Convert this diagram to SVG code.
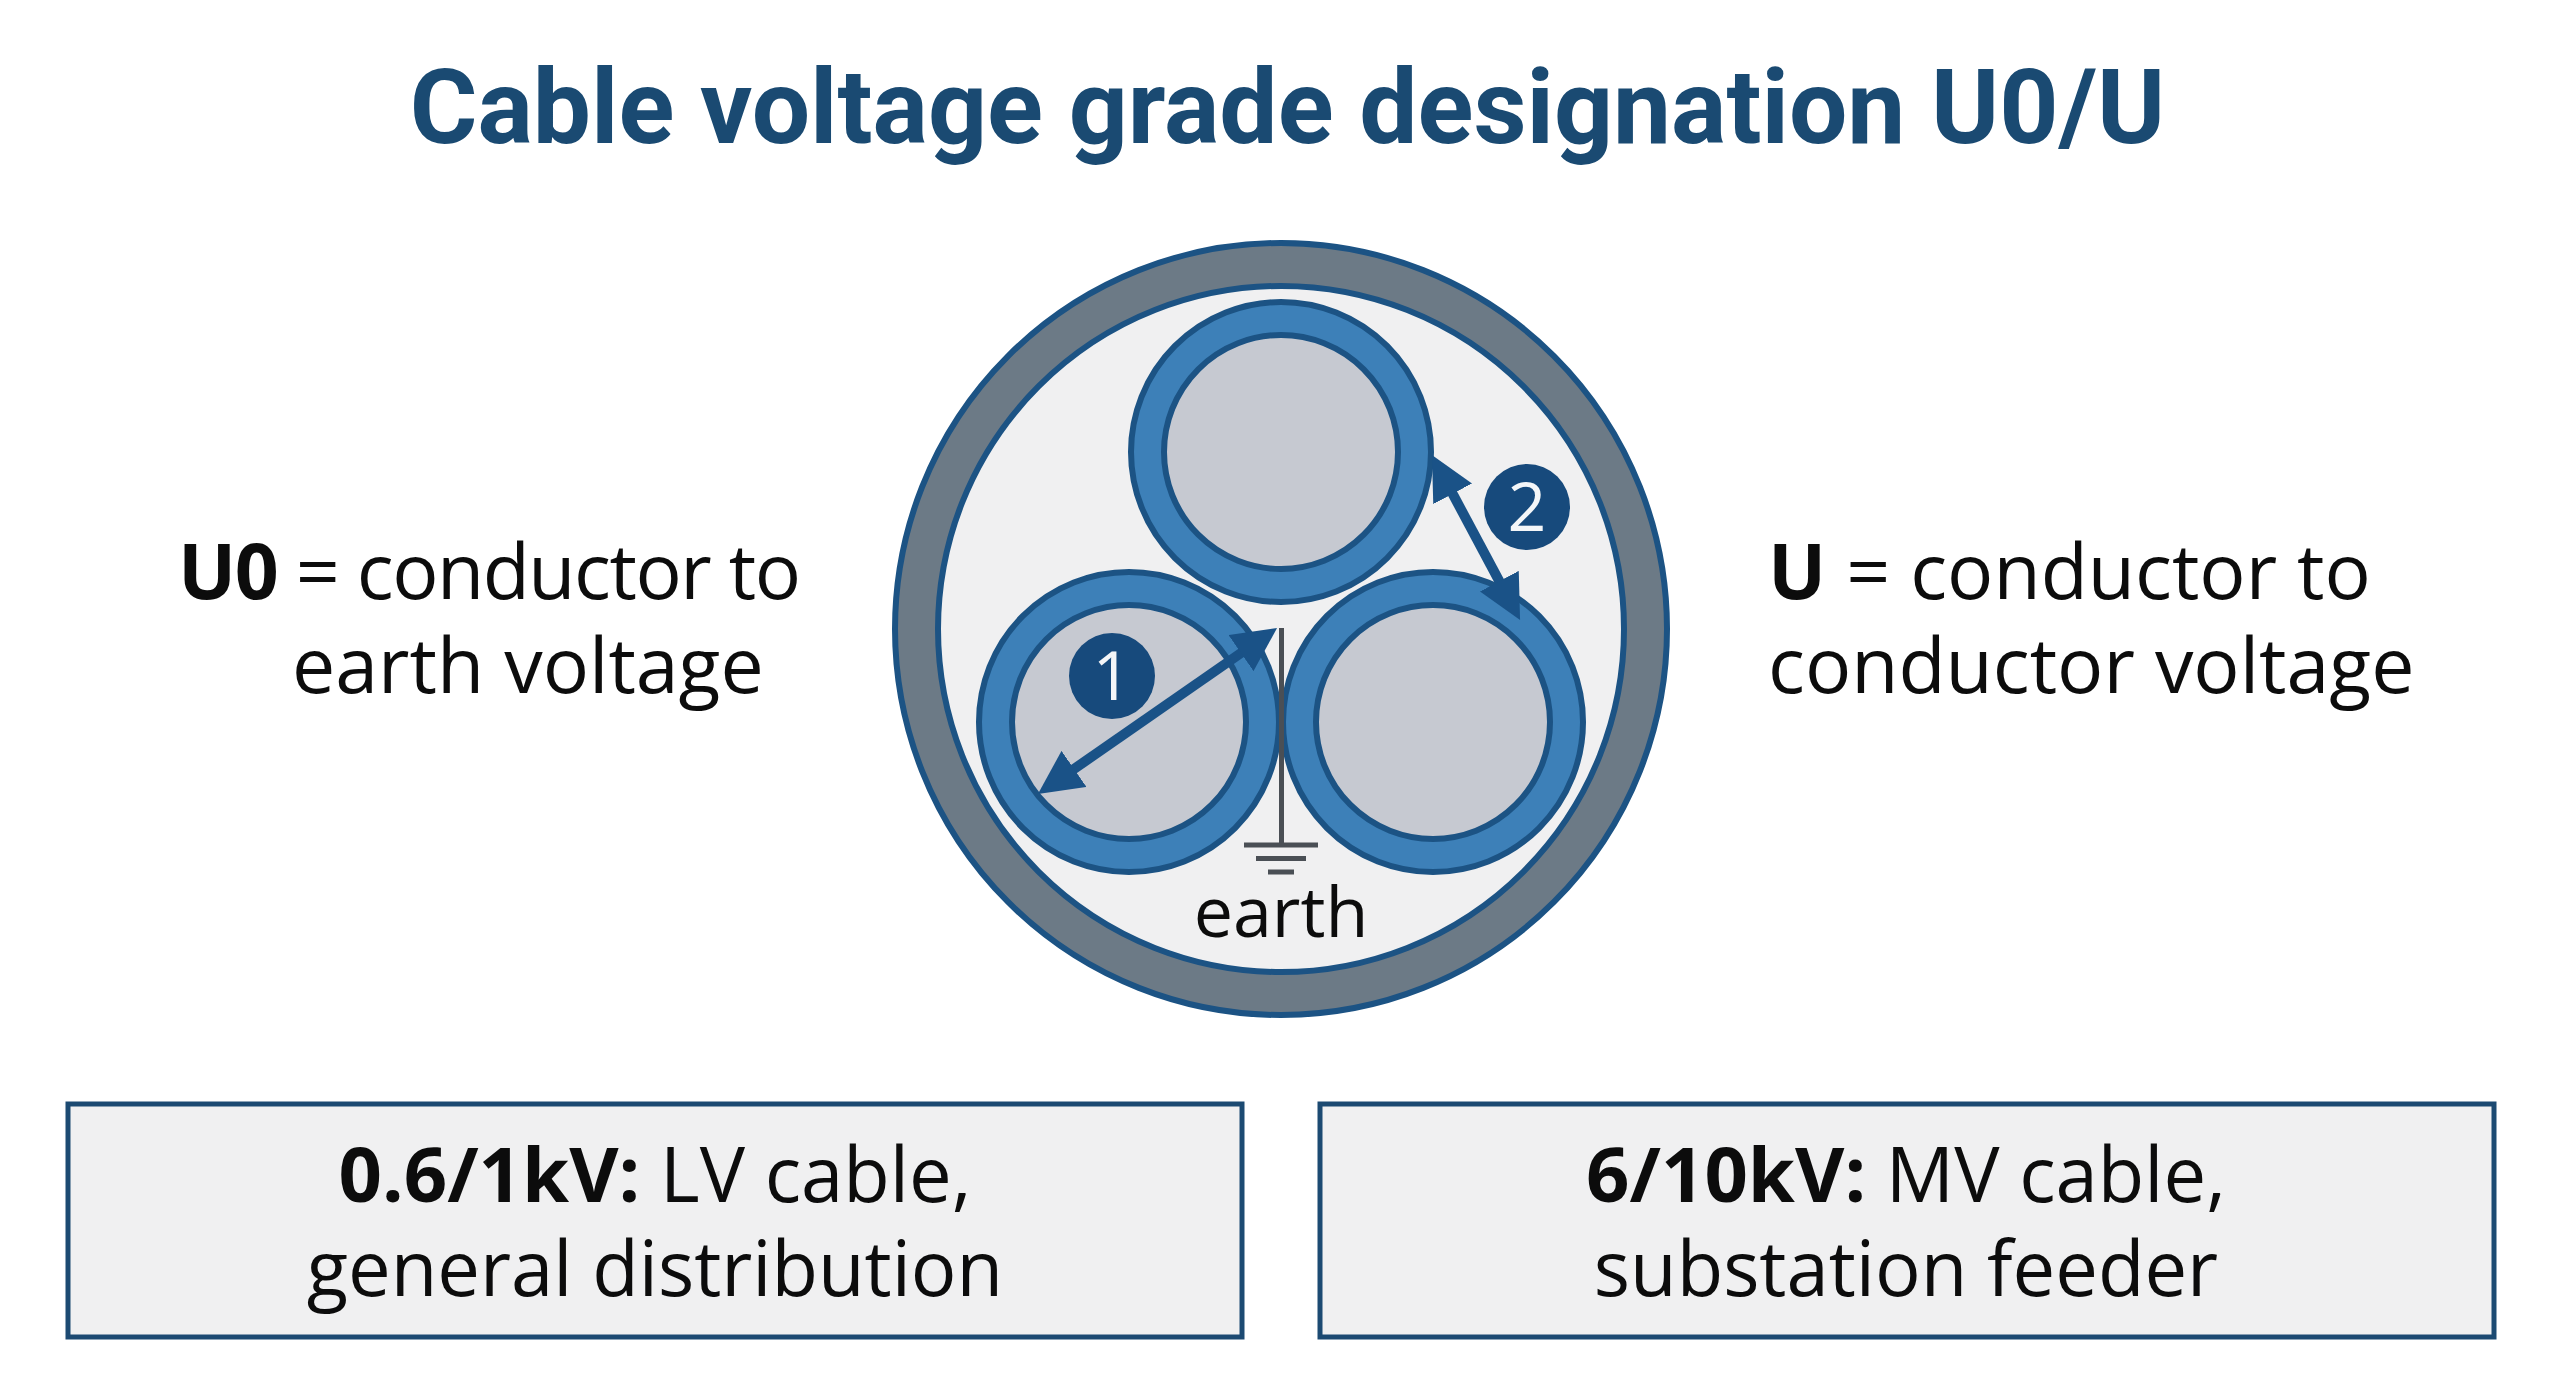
<svg xmlns="http://www.w3.org/2000/svg" width="2560" height="1396" viewBox="0 0 2560 1396">
<style>
text{font-family:"Open Sans","Noto Sans",sans-serif;fill:#0c0c0c;font-size:77px}
.c{text-anchor:middle}
.b{font-weight:700}
.title{font-family:Roboto,"Liberation Sans",sans-serif;font-weight:700;font-size:103.500px;fill:#1a4a72}
.core{fill:#3d80b8;stroke:#1c5384;stroke-width:6}
.cond{fill:#c6c9d1;stroke:#1c5384;stroke-width:6}
.box{fill:#f0f0f1;stroke:#1c4a72;stroke-width:5}
.boxt{font-size:76px}
.arrow{stroke:#1a5287;stroke-width:10;fill:none;marker-start:url(#ah);marker-end:url(#ah)}
.gnd{stroke:#4a4f55;stroke-width:5;fill:none}
.badge{fill:#174a7c}
.num{fill:#f4f6f8;font-size:68px;text-anchor:middle}
</style>
<defs>
<marker id="ah" viewBox="0 0 10 10" refX="5" refY="5" markerWidth="4.400" markerHeight="4.400" orient="auto-start-reverse"><path d="M0 0L10 5L0 10Z" fill="#1a5287"/></marker>
</defs>
<rect width="2560" height="1396" fill="#ffffff"/>
<text id="title" class="title c" x="1287.500" y="143">Cable voltage grade designation U0/U</text>
<g id="cable">
<circle cx="1281" cy="629" r="386" fill="#6c7a86" stroke="#1c5384" stroke-width="6"/>
<circle cx="1281" cy="629" r="343" fill="#f0f0f1" stroke="#1c5384" stroke-width="6"/>
</g>
<g id="core-top"><circle class="core" cx="1281" cy="452" r="150"/><circle class="cond" cx="1281" cy="452" r="117"/></g>
<g id="core-left"><circle class="core" cx="1129" cy="722" r="150"/><circle class="cond" cx="1129" cy="722" r="117"/></g>
<g id="core-right"><circle class="core" cx="1433" cy="722" r="150"/><circle class="cond" cx="1433" cy="722" r="117"/></g>
<g id="earth">
<path class="gnd" d="M1281.500 628V845M1244 845H1318M1256 858.500H1306M1268 872H1294"/>
<text class="c" x="1281" y="937" style="font-size:70px">earth</text>
</g>
<g id="connectors">
<line class="arrow" x1="1259" y1="640.500" x2="1056" y2="781.500"/>
<line class="arrow" x1="1442.300" y1="474.400" x2="1509.700" y2="600.600"/>
</g>
<g id="badge-1"><circle class="badge" cx="1112" cy="676" r="43"/><text class="num" x="1112" y="700">1</text></g>
<g id="badge-2"><circle class="badge" cx="1527" cy="507" r="43"/><text class="num" x="1527" y="531">2</text></g>
<g id="label-u0">
<text x="178" y="599" textLength="623" lengthAdjust="spacing"><tspan class="b">U0</tspan> = conductor to</text>
<text x="292" y="693">earth voltage</text>
</g>
<g id="label-u">
<text x="1768" y="599"><tspan class="b">U</tspan> = conductor to</text>
<text x="1768" y="693">conductor voltage</text>
</g>
<g id="box-lv">
<rect class="box" x="68" y="1104" width="1174" height="233"/>
<text class="c boxt" x="655" y="1202"><tspan class="b">0.6/1kV:</tspan> LV cable,</text>
<text class="c boxt" x="655" y="1296">general distribution</text>
</g>
<g id="box-mv">
<rect class="box" x="1320" y="1104" width="1174" height="233"/>
<text class="c boxt" x="1906" y="1202"><tspan class="b">6/10kV:</tspan> MV cable,</text>
<text class="c boxt" x="1906" y="1296">substation feeder</text>
</g>
</svg>
